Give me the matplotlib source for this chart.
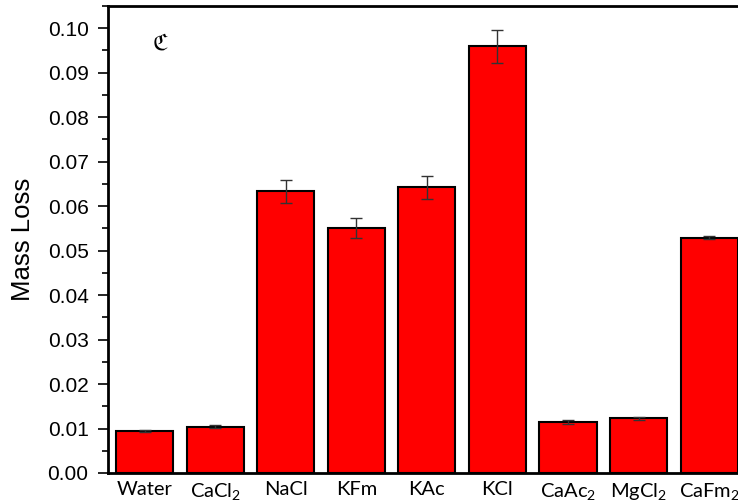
import numpy as np
import matplotlib.pyplot as plt
from matplotlib.ticker import MultipleLocator, FormatStrFormatter

plt.rcParams['mathtext.default'] = 'regular'

labels = ['Water', 'CaCl$_2$', 'NaCl', 'KFm', 'KAc', 'KCl', 'CaAc$_2$', 'MgCl$_2$', 'CaFm$_2$']
mass_loss = [0.0095, 0.0104, 0.0633, 0.0551, 0.0642, 0.0959, 0.0115, 0.0123, 0.0529]
errors = [0.0002, 0.0003, 0.0026, 0.0022, 0.0025, 0.0038, 0.0005, 0.0004, 0.0003]

fig = plt.figure(figsize=(7.38, 5.04), dpi=100)
ax = fig.add_axes([108 / 738, 31 / 504, 630 / 738, 467 / 504])

x = np.arange(len(labels))
ax.bar(x, mass_loss, width=0.81, color='#ff0000', edgecolor='black', linewidth=1.5,
       yerr=errors, capsize=4, error_kw=dict(ecolor='#333333', elinewidth=1, capthick=1))

ax.set_xlim(-0.52, 8.41)
ax.set_ylim(0, 0.105)
ax.yaxis.set_major_locator(MultipleLocator(0.01))
ax.yaxis.set_minor_locator(MultipleLocator(0.005))
ax.yaxis.set_major_formatter(FormatStrFormatter('%.2f'))
ax.tick_params(axis='y', which='major', direction='out', length=7, width=1.2,
               labelsize=15, pad=7)
ax.tick_params(axis='y', which='minor', direction='out', length=4, width=1.2)
for t in ax.get_yticklabels():
    t.set_fontfamily('Liberation Sans')

ax.set_xticks(x)
ax.set_xticklabels(labels, fontsize=14.5, fontfamily='Lato')
ax.tick_params(axis='x', length=0, pad=6)

ax.set_ylabel('Mass Loss', fontsize=18.5, fontfamily='Liberation Sans', labelpad=9)

for side in ['left', 'top', 'bottom']:
    ax.spines[side].set_linewidth(2)
ax.spines['right'].set_visible(False)

ax.text(0.084, 0.917, '\u212d', transform=ax.transAxes, fontsize=16,
        ha='center', va='center')

fig.savefig('out.png', dpi=100)
